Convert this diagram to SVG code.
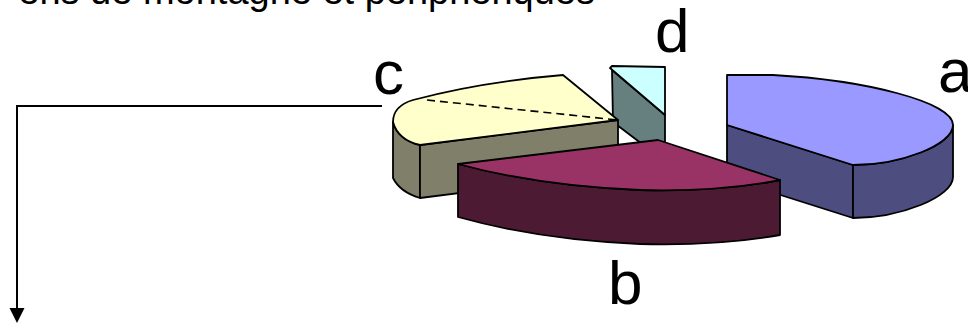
<svg xmlns="http://www.w3.org/2000/svg" width="968" height="324" viewBox="0 0 968 324">
<defs>
<style>
.lbl{font-family:"Liberation Sans",Arial,sans-serif;fill:#000}
.big{font-size:62px}
.edge{stroke:#000;stroke-width:1.8;stroke-linejoin:round}
</style>
</defs>
<rect width="968" height="324" fill="#fff"/>
<text class="lbl" x="595" y="4" font-size="38" text-anchor="end">ens de montagne et périphériques</text>

<g id="slice-d">
<path class="edge" d="M612,70 L665,115 L665,150 L650,150 L613,122 Z" fill="#668080"/>
<path class="edge" d="M610,68 L612,66 L665,67 L665,115 Z" fill="#CCFFFF"/>
</g>

<g id="slice-c">
<path class="edge" d="M393,122 Q398,140 420,145 L420,198 Q400,192 393,178 Z" fill="#80806A"/>
<path class="edge" d="M420,145 L618,120 L618,173 L420,198 Z" fill="#80806A"/>
<path class="edge" d="M393,122 Q393,106 413,100 Q480,82 563,75 L618,120 L420,145 Q398,140 393,122 Z" fill="#FFFFCC"/>
<path d="M427,100 L618,120" stroke="#000" stroke-width="1.6" stroke-dasharray="8,5" fill="none"/>
<text class="lbl big" x="373" y="94">c</text>
</g>

<g id="slice-a">
<path class="edge" d="M727,125 L853,165 L853,218 L727,178 Z" fill="#4D4D80"/>
<path class="edge" d="M853,165 C900,165 953,145 953,125 L953,177 C953,197 900,218 853,218 Z" fill="#4D4D80"/>
<path class="edge" d="M727,75 L773,75 C865,80 953,102 953,125 C953,145 900,165 853,165 L727,125 Z" fill="#9999FF"/>
<text class="lbl big" x="938" y="92">a</text>
</g>

<g id="slice-b">
<path class="edge" d="M458,164 Q540,186 640,190 Q720,192 780,180 L780,235 Q720,246 640,244 Q540,240 458,217 Z" fill="#4D1A33"/>
<path class="edge" d="M458,164 L658,140 L780,180 Q720,192 640,190 Q540,186 458,164 Z" fill="#993366"/>
<text class="lbl big" x="608" y="304">b</text>
</g>

<g id="slice-d-label">
<text class="lbl big" x="655" y="52">d</text>
</g>

<g id="connectors">
<path d="M382,106 H17 V309" fill="none" stroke="#000" stroke-width="2"/>
<path d="M9.5,308 L24.5,308 L17,323 Z" fill="#000"/>
</g>
</svg>
